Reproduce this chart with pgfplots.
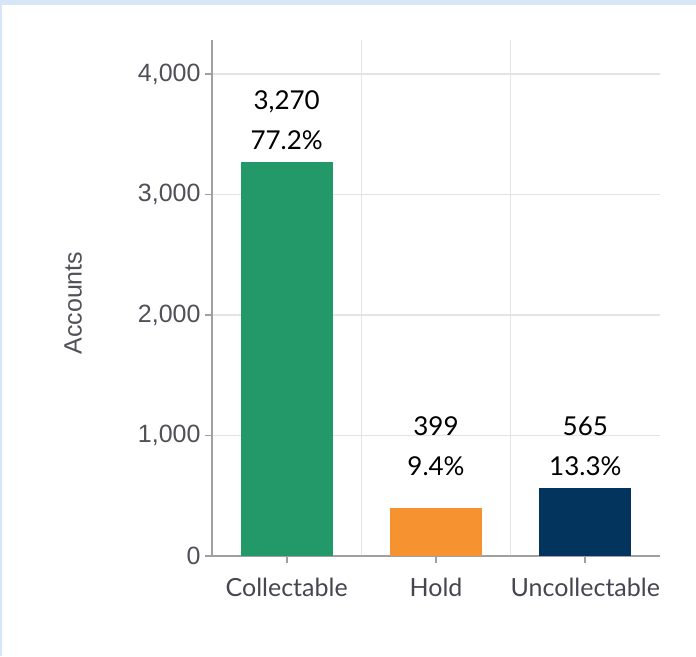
\documentclass[border=0pt]{standalone}
\usepackage{fontspec}
\setmainfont{Liberation Sans}
\newfontfamily\lato{Lato}
\usepackage{pgfplots}
\pgfplotsset{compat=1.18}
\definecolor{bgblue}{RGB}{214,230,246}
\definecolor{cgreen}{RGB}{35,152,104}
\definecolor{corange}{RGB}{246,146,48}
\definecolor{cnavy}{RGB}{2,52,94}
\definecolor{axgray}{RGB}{160,160,160}
\definecolor{gridgray}{RGB}{228,228,228}
\definecolor{ticktext}{RGB}{80,80,88}
\definecolor{cattext}{RGB}{70,70,80}
\begin{document}
\begin{tikzpicture}[x=1pt,y=1pt]
\fill[bgblue] (0,0) rectangle (696,656);
\fill[white] (2,0) rectangle (696,651);
\begin{axis}[
  at={(212pt,100pt)}, anchor=south west,
  scale only axis, width=448pt, height=516pt,
  xmin=-0.5, xmax=2.5, ymin=0, ymax=4282,
  axis x line*=bottom, axis y line*=left,
  axis line style={draw=axgray, line width=1.8pt, -},
  xtick={0,1,2},
  xticklabels={Collectable,Hold,Uncollectable},
  minor xtick={0.5,1.5},
  xminorgrids=true, ymajorgrids=true,
  minor x grid style={draw=gridgray, line width=1.5pt},
  major grid style={draw=gridgray, line width=1.5pt},
  ytick={0,1000,2000,3000,4000},
  tick align=outside,
  major tick length=7pt,
  minor tick length=0pt,
  tick style={draw=axgray, line width=1.8pt},
  /pgf/number format/assume math mode=true,
  /pgf/number format/1000 sep={,},
  yticklabel style={font=\fontsize{25}{29}\selectfont, text=ticktext, xshift=-1pt},
  xticklabel style={font=\lato\fontsize{25}{29}\selectfont, text=cattext, yshift=-12pt},
  ylabel={Accounts},
  ylabel style={font=\fontsize{25}{29}\selectfont, text=ticktext, at={(axis description cs:-0.31,0.49)}, anchor=center},
  ybar, bar width=92pt,
  clip=false,
]
\addplot[fill=cgreen, draw=none, bar shift=0pt] coordinates {(0,3270)};
\addplot[fill=corange, draw=none, bar shift=0pt] coordinates {(1,399)};
\addplot[fill=cnavy, draw=none, bar shift=0pt] coordinates {(2,565)};
\node[font=\lato\fontsize{26}{40}\selectfont, align=center] at (axis cs:0,3618) {3,270\\77.2\%};
\node[font=\lato\fontsize{26}{40}\selectfont, align=center] at (axis cs:1,913) {399\\9.4\%};
\node[font=\lato\fontsize{26}{40}\selectfont, align=center] at (axis cs:2,913) {565\\13.3\%};
\end{axis}
\end{tikzpicture}
\end{document}
